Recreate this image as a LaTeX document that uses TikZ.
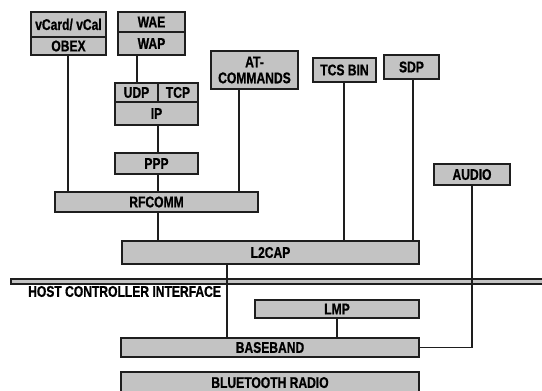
\documentclass[tikz,border=0pt]{standalone}
\usepackage{fontspec}
\setmainfont{Liberation Sans}[FakeStretch=0.78, BoldFeatures={FakeBold=0.8}]
\definecolor{boxgray}{HTML}{C3C3C3}
\definecolor{ink}{HTML}{1E1E1E}
\begin{document}
\begin{tikzpicture}[x=1pt,y=-1pt,
  layer/.style={draw=ink, fill=boxgray, line width=1.6pt, inner sep=0pt,
    font=\fontsize{15.5}{16}\selectfont\bfseries, align=center, anchor=center},
  conn/.style={draw=ink, line width=1.6pt}]
\useasboundingbox (0,0) rectangle (542,391);
% HCI bar
\path[draw=ink, fill=boxgray, line width=1.4pt] (11,279) rectangle (545,284);
\node[anchor=west, inner sep=0pt, font=\fontsize{15.5}{16}\selectfont\bfseries] (hci) at (28,291.5) {HOST CONTROLLER INTERFACE};
% boxes
\node[layer, minimum width=75pt, minimum height=25pt] (vcard) at (68.5,24.5) {vCard/ vCal};
\node[layer, minimum width=75pt, minimum height=18pt] (obex) at (68.5,46) {OBEX};
\node[layer, minimum width=67pt, minimum height=20pt] (wae) at (151.5,22) {WAE};
\node[layer, minimum width=67pt, minimum height=23pt] (wap) at (151.5,43.5) {WAP};
\node[layer, minimum width=43pt, minimum height=19pt] (udp) at (136.5,92.5) {UDP};
\node[layer, minimum width=40pt, minimum height=19pt] (tcp) at (178,92.5) {TCP};
\node[layer, minimum width=83pt, minimum height=23pt] (ip) at (156.5,113.5) {IP};
\node[layer, minimum width=87pt, minimum height=38pt] (at) at (254.5,70) {AT-\\COMMANDS};
\node[layer, minimum width=63pt, minimum height=24pt] (tcs) at (344.5,70) {TCS BIN};
\node[layer, minimum width=55pt, minimum height=24pt] (sdp) at (411.5,67) {SDP};
\node[layer, minimum width=83pt, minimum height=21pt] (ppp) at (156.5,163.5) {PPP};
\node[layer, minimum width=203pt, minimum height=20pt] (rfcomm) at (156.5,202) {RFCOMM};
\node[layer, minimum width=297pt, minimum height=23pt] (l2cap) at (270.5,252.5) {L2CAP};
\node[layer, minimum width=76pt, minimum height=21pt] (audio) at (472,174.5) {AUDIO};
\node[layer, minimum width=164pt, minimum height=18pt] (lmp) at (337,309) {LMP};
\node[layer, minimum width=298pt, minimum height=19pt] (baseband) at (270,347.5) {BASEBAND};
\begin{scope}
\clip (0,0) rectangle (542,391);
\node[layer, minimum width=298pt, minimum height=24pt] (radio) at (270,384) {\raisebox{3pt}{BLUETOOTH RADIO}};
\end{scope}
% connectors
\coordinate (obexout) at ([xshift=-0.5pt]obex.south);
\draw[conn] (obexout) -- (obexout |- rfcomm.north);
\coordinate (wapout) at ([xshift=-14.5pt]wap.south);
\draw[conn] (wapout) -- (wapout |- udp.north);
\coordinate (ipout) at ([xshift=1.5pt]ip.south);
\draw[conn] (ipout) -- (ipout |- ppp.north);
\coordinate (pppout) at ([xshift=1.5pt]ppp.south);
\draw[conn] (pppout) -- (pppout |- rfcomm.north);
\coordinate (atout) at ([xshift=-15.5pt]at.south);
\draw[conn] (atout) -- (atout |- rfcomm.north);
\coordinate (rfout) at ([xshift=1.5pt]rfcomm.south);
\draw[conn] (rfout) -- (rfout |- l2cap.north);
\coordinate (tcsout) at ([xshift=-0.5pt]tcs.south);
\draw[conn] (tcsout) -- (tcsout |- l2cap.north);
\coordinate (sdpout) at ([xshift=1.5pt]sdp.south);
\draw[conn] (sdpout) -- (sdpout |- l2cap.north);
\coordinate (l2out) at ([xshift=-43.5pt]l2cap.south);
\draw[conn] (l2out) -- (l2out |- baseband.north);
\draw[conn] (lmp.south) -- (lmp.south |- baseband.north);
\draw[conn] (audio.south) |- (baseband.east);
\end{tikzpicture}
\end{document}
